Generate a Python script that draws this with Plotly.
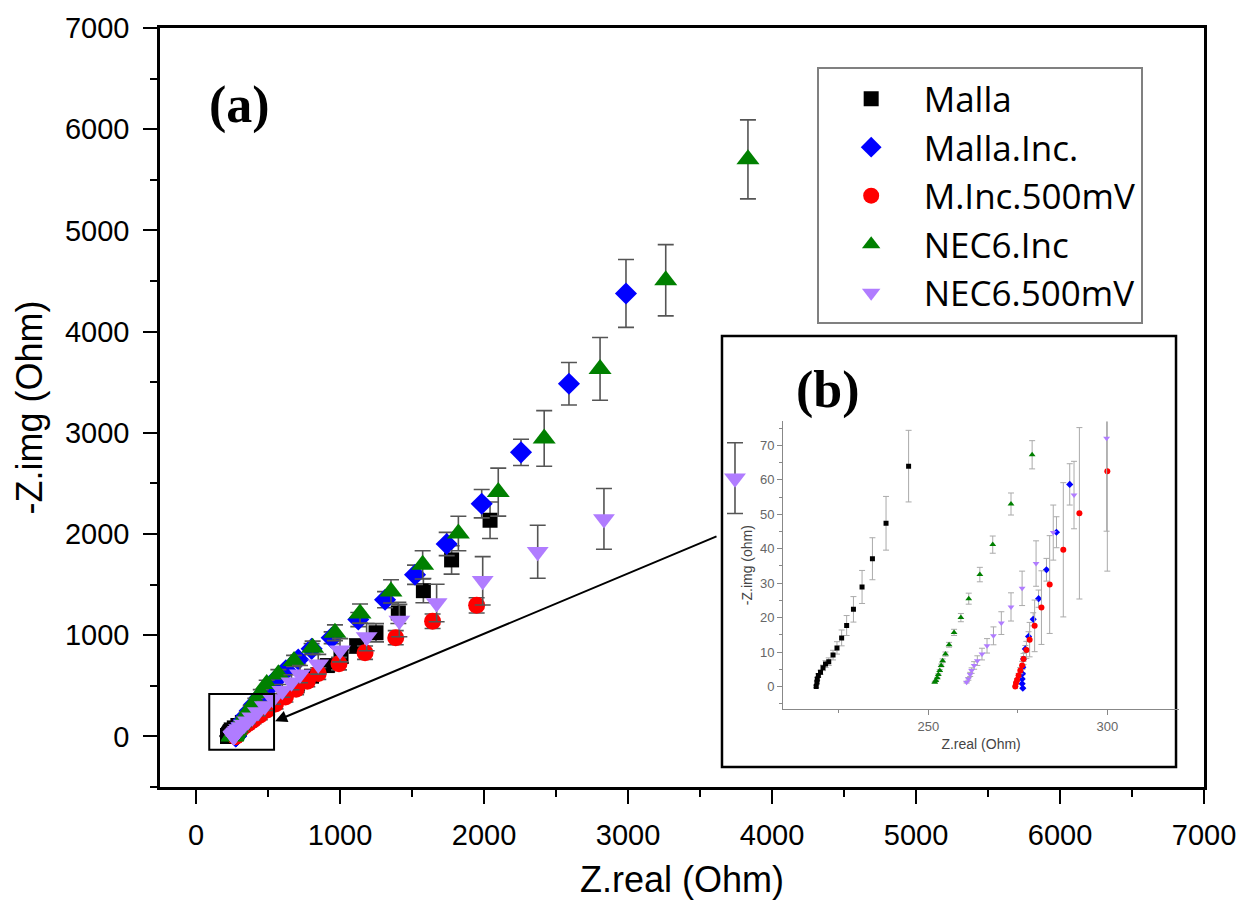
import plotly.graph_objects as go

# ---------------- data ----------------
names = ["Malla", "Malla.Inc.", "M.Inc.500mV", "NEC6.Inc", "NEC6.500mV"]

malla_x = [218.7, 218.9, 219.0, 219.3, 219.9, 220.6, 221.3, 222.2, 223.4, 224.5, 225.8, 227.2, 229.1, 231.5, 234.4, 238.2, 244.5,
           266, 291, 322, 361, 408, 466, 534, 613, 702, 802, 912, 1007, 1116, 1250, 1405, 1579, 1775, 2042]
malla_y = [0.0, 1.2, 2.2, 3.2, 4.1, 5.4, 6.5, 7.2, 9.1, 11.2, 14.1, 17.7, 22.4, 28.9, 37.1, 47.4, 64.0,
           84, 108, 138, 175, 220, 275, 340, 415, 500, 595, 700, 790, 893, 1024, 1220, 1440, 1744, 2136]
malla_err = [0.3, 0.3, 0.4, 0.5, 0.6, 0.8, 1.0, 1.1, 1.4, 1.8, 2.3, 2.9, 3.7, 4.8, 6.1, 7.8, 10.4,
             12, 14, 16, 19, 23, 27, 32, 38, 44, 50, 58, 64, 72, 90, 105, 120, 140, 180]

minc_x = [276.4, 276.2, 276.2, 276.3, 276.4, 276.6, 277.1, 278.0, 279.3, 280.8, 283.0, 285.8, 289.5,
          298, 306, 317, 331, 349, 373, 403, 442, 490, 550, 624, 710, 803, 942, 1127, 1313, 1521, 1741, 1984, 2257, 2590, 2986]
minc_y = [-0.5, 0.8, 2.2, 3.7, 5.6, 8.0, 10.9, 14.5, 19.5, 25.5, 33.9, 44.8, 58.7,
          80, 102, 128, 162, 204, 254, 314, 384, 464, 554, 654, 760, 865, 975, 1155, 1351, 1597, 1901, 2299, 2807, 3484, 4377]
minc_err = [0.1, 0.1, 0.2, 0.3, 0.5, 0.7, 1.0, 1.4, 1.9, 2.5, 3.3, 4.5, 6.0,
            6, 7, 9, 11, 13, 16, 19, 23, 28, 33, 39, 45, 52, 58, 70, 80, 95, 115, 140, 130, 210, 335]

m500_x = [274.3, 274.5, 274.8, 275.2, 275.7, 276.2, 276.6, 277.4, 278.3, 279.7, 281.6, 283.9, 287.7, 292.2, 300.0,
          317, 339, 366, 400, 443, 494, 552, 621, 695, 773, 849, 993, 1174, 1387, 1643, 1949]
m500_y = [0.0, 1.0, 1.9, 3.2, 4.6, 6.1, 8.0, 10.6, 13.6, 17.6, 22.9, 29.6, 39.7, 50.3, 62.5,
          80, 102, 130, 165, 208, 260, 320, 390, 465, 545, 621, 719, 827, 975, 1138, 1295]
m500_err = [0.1, 0.2, 0.4, 0.6, 0.9, 1.2, 1.6, 2.5, 5.0, 7.5, 10.7, 14.2, 19.5, 24.9, 29.0,
            32, 35, 38, 40, 42, 45, 48, 50, 52, 55, 58, 62, 66, 70, 72, 75]

nec_x = [251.8, 252.1, 252.5, 252.8, 253.2, 253.6, 254.0, 254.8, 255.8, 257.2, 259.1, 261.3, 264.4, 268.0, 273.1, 279.0,
         288, 299, 313, 331, 353, 380, 412, 450, 491, 572, 681, 810, 965, 1139, 1354, 1574, 1822, 2099, 2418, 2806, 3262, 3833]
nec_y = [1.2, 1.7, 2.5, 3.5, 4.6, 6.1, 7.5, 9.4, 12.1, 15.7, 20.0, 25.5, 32.5, 41.2, 53.0, 67.3,
         86, 110, 140, 178, 225, 283, 350, 430, 517, 615, 746, 876, 1024, 1214, 1433, 1695, 2005, 2414, 2944, 3631, 4507, 5702]
nec_err = [0.1, 0.1, 0.15, 0.2, 0.3, 0.4, 0.5, 0.6, 0.7, 0.9, 1.2, 1.6, 2.1, 2.5, 3.2, 4.1,
           6, 8, 10, 13, 17, 21, 26, 32, 38, 45, 55, 65, 78, 95, 115, 140, 170, 237, 275, 310, 352, 390]

n500_x = [260.7, 261.2, 261.7, 262.1, 262.8, 263.7, 265.0, 266.4, 268.2, 270.4, 273.1, 276.2, 280.1, 284.9, 290.7, 299.8,
          315, 335, 360, 391, 430, 478, 534, 599, 663, 722, 849, 1000, 1185, 1412, 1671, 1991, 2373, 2833, 3743]
n500_y = [1.2, 2.2, 3.5, 4.6, 6.1, 7.5, 9.4, 11.8, 14.7, 18.4, 23.1, 28.5, 35.7, 44.7, 55.6, 72.1,
          92, 118, 150, 190, 240, 300, 370, 450, 535, 615, 713, 851, 981, 1145, 1318, 1537, 1825, 2149, 2552]
n500_err = [0.2, 0.4, 0.6, 0.8, 1.1, 1.4, 1.7, 2.1, 2.6, 3.3, 4.1, 5.0, 6.6, 8.0, 9.8, 27,
            16, 20, 25, 30, 36, 44, 53, 63, 74, 85, 98, 115, 135, 160, 185, 239, 262, 300, 350]

# number of leading points of each series shown in the zoomed inset (b)
inset_counts = [17, 13, 15, 16, 16]

main_xticks = [0, 1000, 2000, 3000, 4000, 5000, 6000, 7000]
main_yticks = [0, 1000, 2000, 3000, 4000, 5000, 6000, 7000]
inset_xticks = [250, 300]
inset_yticks = [0, 10, 20, 30, 40, 50, 60, 70]

# ---------------- styles ----------------
series = [
    (names[0], malla_x, malla_y, malla_err, "square", "black", 15, 5),
    (names[1], minc_x, minc_y, minc_err, "diamond", "#0000ff", 17, 5.5),
    (names[2], m500_x, m500_y, m500_err, "circle", "#ff0000", 17, 6),
    (names[3], nec_x, nec_y, nec_err, "triangle-up", "#008000", 20, 6),
    (names[4], n500_x, n500_y, n500_err, "triangle-down", "#b07cff", 19, 6),
]

fig = go.Figure()
for name, xs, ys, es, sym, col, sz, isz in series:
    fig.add_trace(go.Scatter(
        x=xs, y=ys, mode="markers", name=name,
        marker=dict(symbol=sym, color=col, size=sz, line=dict(width=0)),
        error_y=dict(type="data", array=es, color="#555555", thickness=1.6, width=8),
        xaxis="x", yaxis="y"))
for (name, xs, ys, es, sym, col, sz, isz), n in zip(series, inset_counts):
    fig.add_trace(go.Scatter(
        x=xs[:n], y=ys[:n], mode="markers", name=name, showlegend=False,
        marker=dict(symbol=sym, color=col, size=isz, line=dict(width=0)),
        error_y=dict(type="data", array=es[:n], color="#aaaaaa", thickness=1, width=3),
        xaxis="x2", yaxis="y2", cliponaxis=True))

tickfont = dict(family="Liberation Sans, Arial, sans-serif", size=29, color="black")
titlefont = dict(family="Liberation Sans, Arial, sans-serif", size=36, color="black")
small_tick = dict(family="Liberation Sans, Arial, sans-serif", size=13, color="#666666")
small_title = dict(family="Liberation Sans, Arial, sans-serif", size=14, color="#444444")

fig.update_layout(
    width=1259, height=909,
    margin=dict(l=160, r=55, t=23, b=122),
    paper_bgcolor="white", plot_bgcolor="rgba(0,0,0,0)",
    showlegend=True,
    legend=dict(x=0.629, y=0.948, xanchor="left", yanchor="top",
                bgcolor="white", bordercolor="#808080", borderwidth=2,
                font=dict(family="Open Sans, sans-serif", size=35, color="black"),
                itemwidth=95, tracegroupgap=0),
    xaxis=dict(domain=[0, 1], range=[-250, 7000], tickvals=main_xticks,
               ticks="outside", ticklen=14, tickwidth=2, tickcolor="black",
               linecolor="black", linewidth=2.5, mirror=True,
               showgrid=False, zeroline=False, tickfont=tickfont,
               ticklabelstandoff=6,
               minor=dict(dtick=500, tick0=0, ticks="outside", ticklen=7, tickwidth=2, tickcolor="black"),
               title=dict(text="Z.real (Ohm)", font=titlefont, standoff=18)),
    yaxis=dict(domain=[0, 1], range=[-500, 7000], tickvals=main_yticks,
               ticks="outside", ticklen=14, tickwidth=2, tickcolor="black",
               linecolor="black", linewidth=2.5, mirror=True,
               showgrid=False, zeroline=False, tickfont=tickfont,
               ticklabelstandoff=8,
               minor=dict(dtick=500, tick0=0, ticks="outside", ticklen=7, tickwidth=2, tickcolor="black"),
               title=dict(text="-Z.img (Ohm)", font=titlefont, standoff=12)),
    xaxis2=dict(domain=[0.597, 0.976], range=[209.5, 320], anchor="y2", tickvals=inset_xticks,
                ticks="outside", ticklen=5, tickwidth=1, tickcolor="#888888",
                linecolor="#888888", linewidth=1.2, showgrid=False, zeroline=False,
                tickfont=small_tick,
                minor=dict(tickvals=[225, 275], ticks="outside", ticklen=3, tickcolor="#888888"),
                title=dict(text="Z.real (Ohm)", font=small_title, standoff=6)),
    yaxis2=dict(domain=[0.103, 0.4817], range=[-6.5, 77], anchor="x2", tickvals=inset_yticks,
                ticks="outside", ticklen=5, tickwidth=1, tickcolor="#888888",
                linecolor="#888888", linewidth=1.2, showgrid=False, zeroline=False,
                tickfont=small_tick,
                minor=dict(dtick=5, tick0=0, ticks="outside", ticklen=3, tickcolor="#888888"),
                title=dict(text="-Z.img (ohm)", font=small_title, standoff=4)),
    shapes=[
        dict(type="rect", xref="paper", yref="paper", x0=0.5383, x1=0.9732, y0=0.0262, y1=0.5942,
             line=dict(color="black", width=2.5), fillcolor="white", layer="below"),
        dict(type="rect", xref="x", yref="y", x0=92, x1=542, y0=-131, y1=419,
             line=dict(color="black", width=2), layer="above"),
    ],
    annotations=[
        dict(x=549, y=150, ax=3625, ay=1982, xref="x", yref="y", axref="x", ayref="y",
             showarrow=True, arrowhead=2, arrowsize=1.2, arrowwidth=2, arrowcolor="black", text=""),
        dict(x=0.0766, y=0.898, xref="paper", yref="paper", xanchor="center", yanchor="middle",
             showarrow=False, text="<b>(a)</b>",
             font=dict(family="Liberation Serif, Times New Roman, serif", size=52, color="black")),
        dict(x=0.640, y=0.5236, xref="paper", yref="paper", xanchor="center", yanchor="middle",
             showarrow=False, text="<b>(b)</b>",
             font=dict(family="Liberation Serif, Times New Roman, serif", size=52, color="black")),
    ],
)

fig.write_html("out.html")
